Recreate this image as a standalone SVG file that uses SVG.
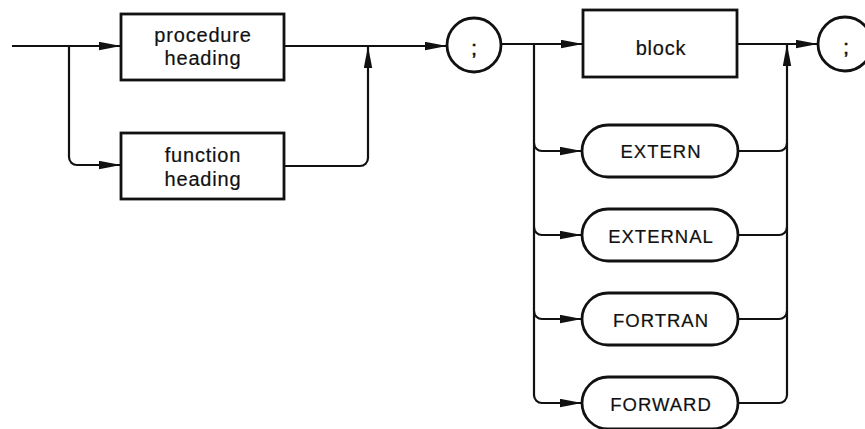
<svg xmlns="http://www.w3.org/2000/svg" width="865" height="429" viewBox="0 0 865 429">
  <style>
    .box { fill: #fff; stroke: #111; stroke-width: 2.8; }
    .line { fill: none; stroke: #111; stroke-width: 2.2; }
    .lbl { font-family: "Liberation Sans", Arial, Helvetica, sans-serif; fill: #111; stroke: #111; stroke-width: 0.2; text-anchor: middle; }
    .lower { font-size: 20px; letter-spacing: 0.8px; }
    .upper { font-size: 18.5px; letter-spacing: 1px; }
    .semi { font-size: 20px; stroke-width: 0.6; }
  </style>
  <defs>
    <marker id="arrow" markerUnits="userSpaceOnUse" markerWidth="24" markerHeight="10" refX="22" refY="4.5" orient="auto">
      <path d="M0,0.3 L22,4.5 L0,8.7 z" fill="#111"/>
    </marker>
  </defs>

  <!-- connectors -->
  <g id="connectors" class="line">
    <!-- entry and choice of heading -->
    <path d="M12,46 H69" />
    <path d="M69,46 H121" marker-end="url(#arrow)" />
    <path d="M69,46 V157 A8,8 0 0 0 77,165 H121" marker-end="url(#arrow)" />
    <path d="M284,46 H447" marker-end="url(#arrow)" />
    <path d="M284,166 H360 A8,8 0 0 0 368,158 V46" marker-end="url(#arrow)" />

    <!-- from first semicolon to the body alternatives -->
    <path d="M501,44 H534" />
    <path d="M534,44 H583" marker-end="url(#arrow)" />
    <path d="M534,44 V395 A8,8 0 0 0 542,403 H582" marker-end="url(#arrow)" />
    <path d="M534,143 A8,8 0 0 0 542,151 H582" marker-end="url(#arrow)" />
    <path d="M534,227 A8,8 0 0 0 542,235 H582" marker-end="url(#arrow)" />
    <path d="M534,311 A8,8 0 0 0 542,319 H582" marker-end="url(#arrow)" />

    <!-- merging back to the final semicolon -->
    <path d="M737,44 H818" marker-end="url(#arrow)" />
    <path d="M738,403 H779 A8,8 0 0 0 787,395 V44" marker-end="url(#arrow)" />
    <path d="M738,151 H779 A8,8 0 0 0 787,143" />
    <path d="M738,235 H779 A8,8 0 0 0 787,227" />
    <path d="M738,319 H779 A8,8 0 0 0 787,311" />
  </g>

  <!-- nodes -->
  <g id="procedure-heading">
    <rect class="box" x="121" y="14" width="163" height="66" />
    <text class="lbl lower" x="203" y="41.5">procedure</text>
    <text class="lbl lower" x="203" y="64.5">heading</text>
  </g>
  <g id="function-heading">
    <rect class="box" x="121" y="133" width="163" height="66" />
    <text class="lbl lower" x="203" y="161.5">function</text>
    <text class="lbl lower" x="203" y="185.5">heading</text>
  </g>
  <g id="semicolon-1">
    <circle class="box" cx="474" cy="45" r="27" />
    <text class="lbl semi" x="474" y="55">;</text>
  </g>
  <g id="block">
    <rect class="box" x="583" y="10" width="154" height="67" />
    <text class="lbl lower" x="661" y="55">block</text>
  </g>
  <g id="extern">
    <rect class="box" x="582" y="125" width="156" height="52" rx="26" ry="26" />
    <text class="lbl upper" x="661" y="158">EXTERN</text>
  </g>
  <g id="external">
    <rect class="box" x="582" y="209" width="156" height="52" rx="26" ry="26" />
    <text class="lbl upper" x="661" y="242.5">EXTERNAL</text>
  </g>
  <g id="fortran">
    <rect class="box" x="582" y="293" width="156" height="52" rx="26" ry="26" />
    <text class="lbl upper" x="661" y="326.5">FORTRAN</text>
  </g>
  <g id="forward">
    <rect class="box" x="582" y="377" width="156" height="52" rx="26" ry="26" />
    <text class="lbl upper" x="661" y="410.5">FORWARD</text>
  </g>
  <g id="semicolon-2">
    <circle class="box" cx="845" cy="44" r="27" />
    <text class="lbl semi" x="846" y="54">;</text>
  </g>
</svg>
